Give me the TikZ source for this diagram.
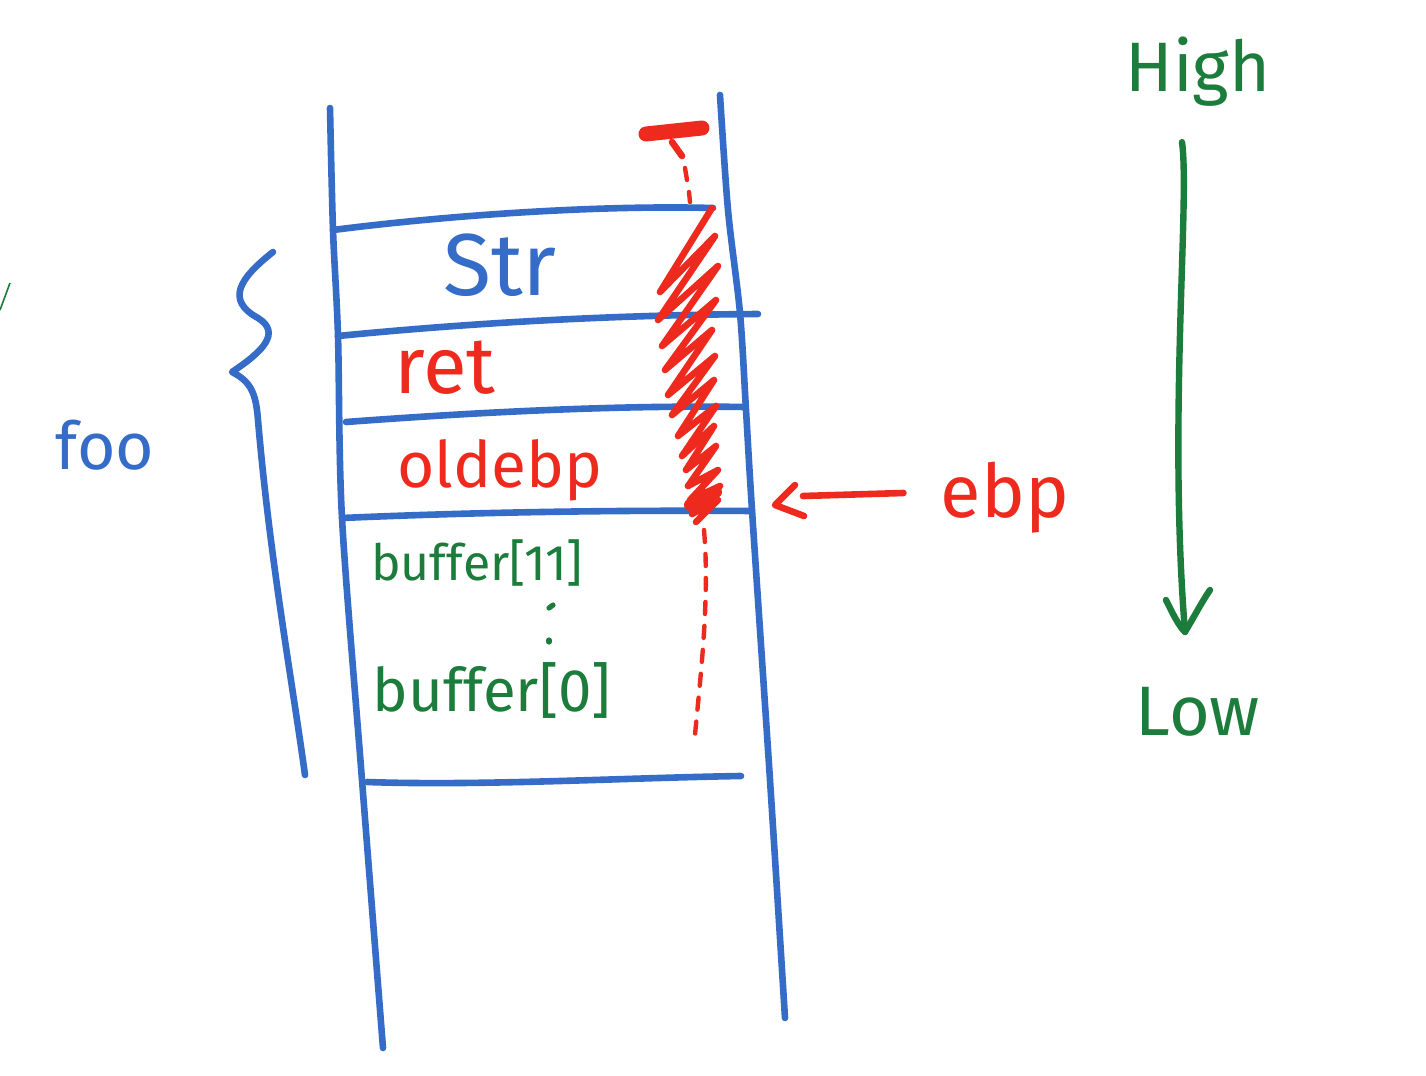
\documentclass[tikz,border=0pt]{standalone}
\usepackage{fontspec}
\setmainfont{Fira Sans}
\usetikzlibrary{arrows.meta}
\definecolor{penblue}{RGB}{52,108,200}
\definecolor{penred}{RGB}{238,42,30}
\definecolor{pengreen}{RGB}{28,124,60}
\tikzset{
  bluepen/.style={draw=penblue,line width=3.3pt,line cap=round,line join=round},
  redpen/.style={draw=penred,line width=3.3pt,line cap=round,line join=round},
  greenpen/.style={draw=pengreen,line width=3.2pt,line cap=round,line join=round},
  lbl/.style={inner sep=0pt,anchor=center},
}
\newcommand{\fs}[1]{\fontsize{#1}{#1}\selectfont}
\begin{document}
\begin{tikzpicture}[x=0.5pt,y=-0.5pt]
\useasboundingbox (0,0) rectangle (1426,1076);
\fill[white] (0,0) rectangle (1426,1076);

% stack walls
\draw[bluepen] plot[smooth] coordinates {(330,108) (333,230) (338,336) (342,518) (362,780) (383,1048)};
\draw[bluepen] plot[smooth] coordinates {(720,95) (728,210) (740,313) (746,410) (752,510) (770,780) (785,1018)};

% horizontal separators
\draw[bluepen] (333,230) .. controls (450,215) and (600,205) .. (713,208);
\draw[bluepen] (338,336) .. controls (480,322) and (620,315) .. (758,314);
\draw[bluepen] (346,422) .. controls (480,412) and (620,405) .. (745,407);
\draw[bluepen] (342,518) .. controls (480,512) and (620,510) .. (752,511);
\draw[bluepen] (367,782) .. controls (480,786) and (620,778) .. (741,776);

% texts in slots
\node[lbl,text=penblue] (str) at (500,265) {\fs{44}Str};
\node[lbl,text=penred] (ret) at (445,368) {\fs{40}ret};
\node[lbl,text=penred] (oldebp) at (500,470) {\fs{32}oldebp};
\node[lbl,text=pengreen] (buf11) at (477,563) {\fs{25}buffer[11]};
\node[lbl,text=pengreen] (buf0) at (492,690) {\fs{30}buffer[0]};
\coordinate (dotA) at (553,605);
\coordinate (dotB) at (549,640);
\draw[greenpen,line width=2.6pt] (dotA) -- ++(-4,3);
\draw[greenpen,line width=2.6pt] (dotB) -- ++(0,2);

% brace and foo
\draw[bluepen] (273,252) .. controls (240,278) and (225,300) .. (258,318)
  .. controls (282,333) and (262,352) .. (232,372)
  .. controls (252,382) and (256,395) .. (258,420)
  .. controls (270,560) and (292,680) .. (305,775);
\node[lbl,text=penblue] (foo) at (105,445) {\fs{33}foo};

% stray green mark at left edge
\draw[draw=pengreen,line width=0.8pt] (0,310) -- (10,283);

% red: top bar, dashes, scribble, dotted line
\coordinate (bar1) at (646,134);
\coordinate (bar2) at (702,128);
\draw[redpen,line width=7.5pt] (bar1) -- (bar2);
\draw[redpen] (672,142) -- (682,156);
\draw[redpen,line width=2.2pt] (685,168) -- (687,180);
\draw[redpen,line width=2.2pt] (689,192) -- (690,202);
\draw[redpen] plot coordinates {(712,208) (660,292) (715,236) (658,320) (718,266) (662,346)
  (716,300) (665,370) (712,330) (668,395) (715,356) (672,415) (714,380) (678,436) (716,406)
  (682,456) (714,426) (686,470) (716,446) (688,486) (718,470) (690,500) (720,486) (692,514)
  (718,500) (696,522)};
\draw[redpen,line width=6pt] (690,505) -- (716,492);
\draw[draw=penred,line width=2.2pt,line cap=round,dash pattern=on 6pt off 6pt] (704,530) .. controls (710,600) and (700,680) .. (695,735);

% ebp pointer
\node[lbl,text=penred] (ebp) at (1005,498) {\fs{37}ebp};
\coordinate (shaftend) at (803,496);
\coordinate (ebptip) at (775,505);
\draw[redpen] (ebp.west) ++(-37,-5) -- (shaftend);
\draw[redpen] (795,485) -- (ebptip) -- (804,516);

% High -> Low
\node[lbl,text=pengreen] (high) at (1198,72) {\fs{35}High};
\node[lbl,text=pengreen] (low) at (1198,712) {\fs{35}Low};
\coordinate (lowtip) at (1185,632);
\draw[greenpen] (high.south) ++(-16,35) .. controls (1190,200) and (1168,420) .. (lowtip);
\draw[greenpen] (1166,600) .. controls (1172,612) and (1178,625) .. (lowtip) .. controls (1195,615) and (1203,600) .. (1210,590);
\end{tikzpicture}
\end{document}
